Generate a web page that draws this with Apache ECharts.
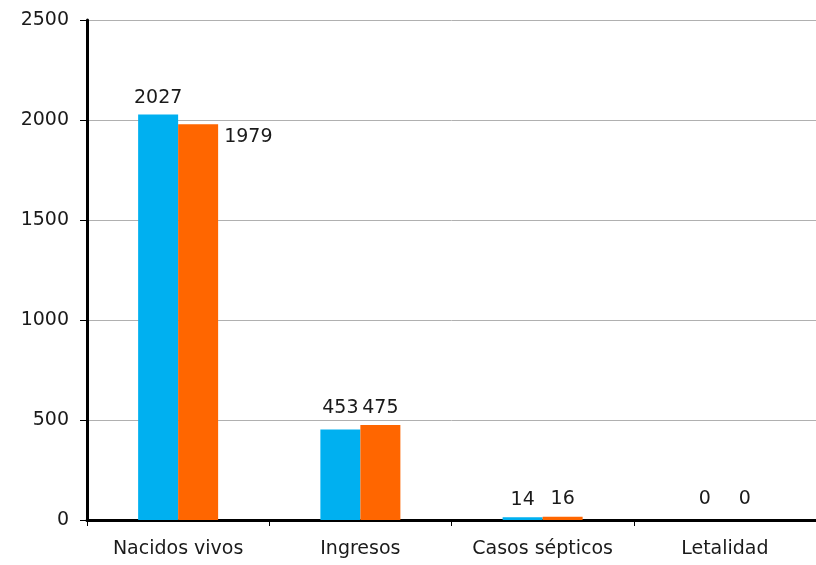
<!DOCTYPE html>
<html><head><meta charset="utf-8">
<script src="https://cdn.jsdelivr.net/npm/echarts@6/dist/echarts.min.js"></script>
<style>html,body{margin:0;padding:0;background:#fff}#c{width:816px;height:565px}</style>
</head><body><div id="c"></div>
<script>
const categories = ['Nacidos vivos', 'Ingresos', 'Casos sépticos', 'Letalidad'];
const seriesA = [2027, 453, 14, 0];
const seriesB = [1979, 475, 16, 0];
const yTicks = [0, 500, 1000, 1500, 2000, 2500];

const font = 'DejaVu Sans, Verdana, sans-serif';
const FS = 19;
const chart = echarts.init(document.getElementById('c'), null, {renderer: 'canvas'});
const lbl = {show: true, position: 'top', color: '#1a1a1a', fontFamily: font, fontSize: FS, distance: 6};
const distA = [7, 12, 8, 11];
const distB = [7, 7, 8, 11];
chart.setOption({
  animation: false,
  grid: {left: 87, right: 0, top: 20, bottom: 45},
  xAxis: {
    type: 'category', data: categories,
    axisLine: {lineStyle: {color: '#000', width: 3}},
    axisTick: {show: true, length: 6, interval: 0, lineStyle: {color: '#000', width: 1}},
    axisLabel: {color: '#1a1a1a', fontFamily: font, fontSize: FS, margin: 20, interval: 0}
  },
  yAxis: {
    type: 'value', min: yTicks[0], max: yTicks[yTicks.length - 1], interval: 500,
    axisLine: {show: true, lineStyle: {color: '#000', width: 3}},
    axisTick: {show: true, length: 7, lineStyle: {color: '#000', width: 1}},
    axisLabel: {color: '#1a1a1a', fontFamily: font, fontSize: FS, margin: 18, formatter: v => String(v)},
    splitLine: {lineStyle: {color: '#b0b0b0', width: 1}}
  },
  series: [
    {type: 'bar', barWidth: 40, barGap: '0%',
     data: seriesA.map((v, i) => ({value: v, label: {distance: distA[i]}})),
     itemStyle: {color: '#00b0f0'}, label: lbl},
    {type: 'bar', barWidth: 40,
     data: seriesB.map((v, i) => i === 0 ? {value: v, label: {position: [46, 3]}} : {value: v, label: {distance: distB[i]}}),
     itemStyle: {color: '#ff6600'}, label: lbl}
  ]
});
</script></body></html>
